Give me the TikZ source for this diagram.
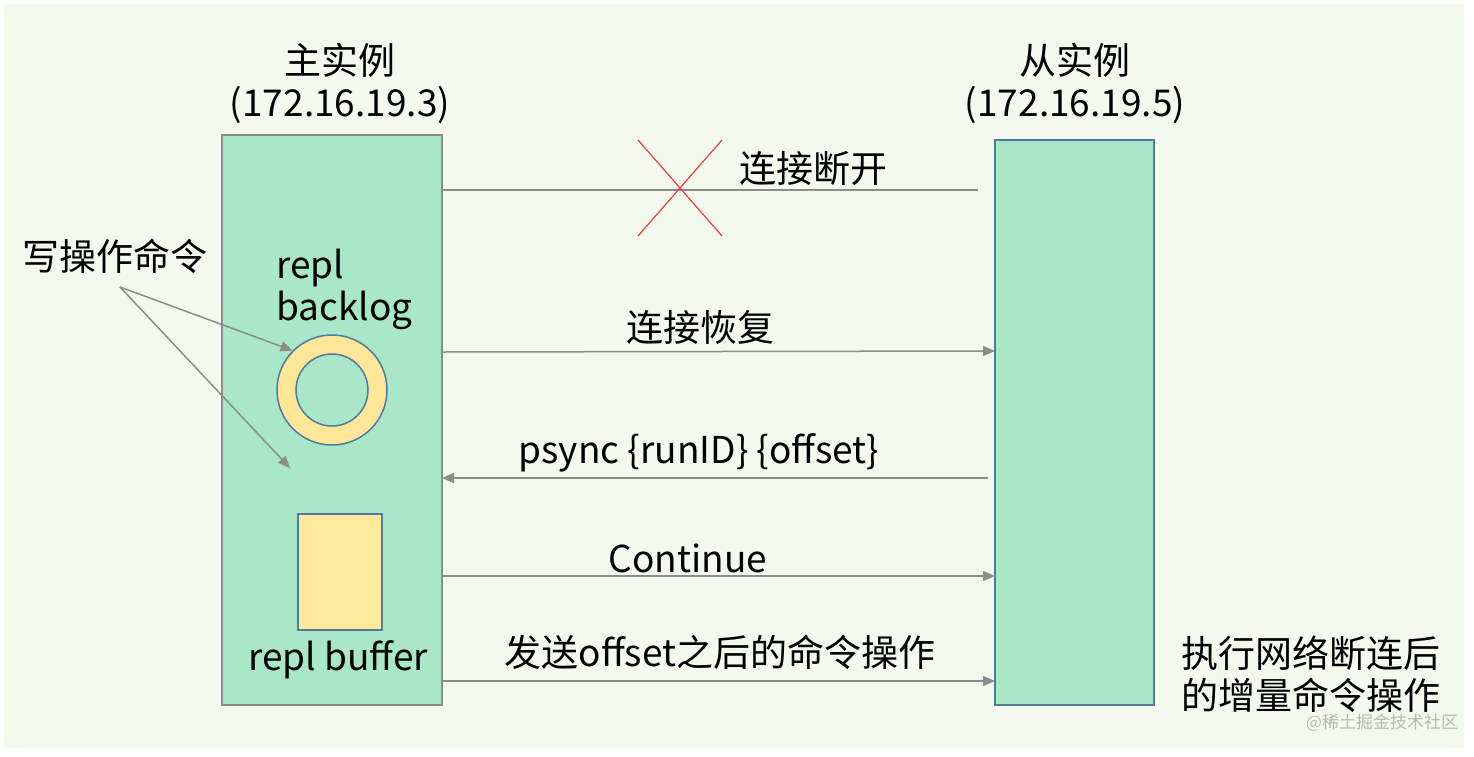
\documentclass[tikz,border=0pt]{standalone}
\usepackage{fontspec}
\setmainfont{Noto Sans CJK SC}
\usetikzlibrary{arrows.meta}

\definecolor{paper}{HTML}{F4F9EE}
\definecolor{mint}{HTML}{A8E7C7}
\definecolor{ringy}{HTML}{FDE697}
\definecolor{bufy}{HTML}{FFE99D}
\definecolor{edgeblue}{HTML}{52799E}
\definecolor{linegray}{HTML}{8C8C8C}
\definecolor{crossred}{HTML}{EC3B45}

\tikzset{
  inst/.style={draw, fill=mint, line width=0.75pt, inner sep=0pt, outer sep=0pt, anchor=north west},
  msg/.style={draw=linegray, line width=0.75pt, -{Triangle[length=6pt,width=5pt]}},
  lbl/.style={inner sep=0pt, font=\fontsize{18.5}{21}\selectfont},
}

\begin{document}
\begin{tikzpicture}[x=0.5pt,y=-0.5pt]
  \useasboundingbox (0,0) rectangle (1474,756);
  \fill[white] (0,0) rectangle (1474,756);
  \fill[paper] (4,4) rectangle (1464,748);

  % the two instances
  \node[inst, draw=linegray, minimum width=110pt, minimum height=285pt] (master) at (222,135) {};
  \node[inst, draw=edgeblue, minimum width=79.5pt, minimum height=282.5pt] (slave) at (995,140) {};

  \node[lbl, align=center] (mtitle) at (340,83) {主实例\\(172.16.19.3)};
  \node[lbl, align=center] (stitle) at (1075,83) {从实例\\(172.16.19.5)};

  % repl backlog ring and repl buffer
  \node[circle, draw=edgeblue, fill=ringy, line width=0.75pt, minimum size=55pt, inner sep=0pt] (backlog) at (332,390) {};
  \node[circle, draw=edgeblue, fill=mint, line width=0.75pt, minimum size=36pt, inner sep=0pt] (hole) at (332,390) {};
  \node[lbl, anchor=west, align=left] (bltext) at (276,289) {repl\\backlog};

  \node[inst, draw=edgeblue, fill=bufy, minimum width=42pt, minimum height=58pt] (buffer) at (298,514) {};
  \node[lbl] (buftext) at (338,660) {repl buffer};

  % write commands
  \node[lbl] (wcmd) at (115,256) {写操作命令};
  \coordinate (wsrc) at (120,287);
  \coordinate (wdst) at (290,468);
  \draw[msg] (wsrc) -- (backlog.north west);
  \draw[msg] (wsrc) -- (wdst);

  % broken link
  \coordinate (cut) at (978,190);
  \draw[linegray, line width=0.75pt] (master.east |- cut) -- (cut);
  \draw[crossred, line width=0.6pt] (638,140) -- (722,236) (638,236) -- (722,140);
  \node[lbl] (lost) at (813,168) {连接断开};

  % messages after reconnect
  \draw[msg] (master.east |- 0,352) -- (slave.west |- 0,351);
  \node[lbl] (back) at (700,327) {连接恢复};
  \coordinate (psrc) at (988,478);
  \draw[msg] (psrc) -- (master.east |- psrc);
  \node[lbl] (psync) at (699,453) {psync \{runID\} \{offset\}};
  \draw[msg] (master.east |- 0,576) -- (slave.west |- 0,576);
  \node[lbl] (cont) at (688,558) {Continue};
  \draw[msg] (master.east |- 0,681) -- (slave.west |- 0,681);
  \node[lbl] (sendcmd) at (720,652) {发送offset之后的命令操作};

  \node[lbl, align=left] (apply) at (1311,674) {执行网络断连后\\的增量命令操作};
  \node[inner sep=0pt, text=black!28, font=\fontsize{8.5}{10}\selectfont] (mark) at (1382,723) {@稀土掘金技术社区};
\end{tikzpicture}
\end{document}
